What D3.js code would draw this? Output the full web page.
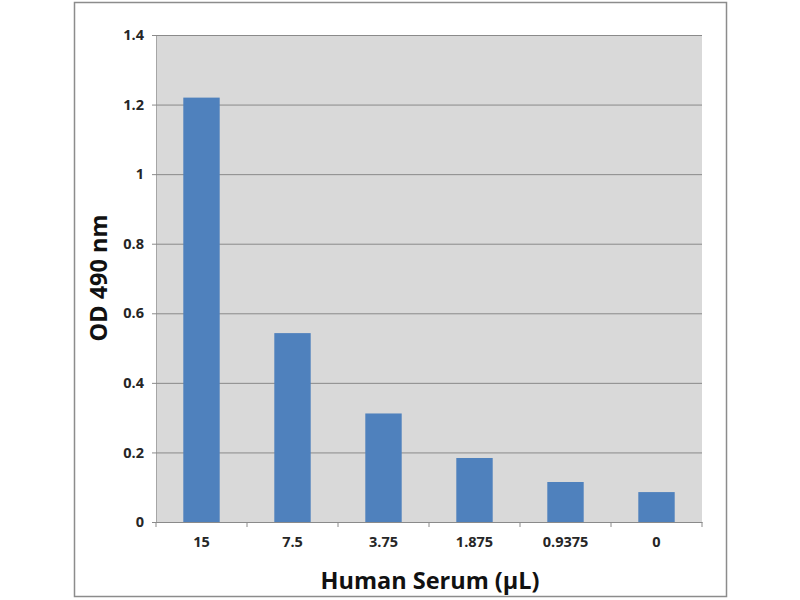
<!DOCTYPE html>
<html><head><meta charset="utf-8">
<script src="https://cdn.jsdelivr.net/npm/d3@7/dist/d3.min.js"></script>
<style>body{margin:0;background:#fff;} svg{display:block;}</style>
</head><body>
<svg id="c" width="800" height="600"></svg>
<script>
const categories = ["15", "7.5", "3.75", "1.875", "0.9375", "0"];
const values = [1.22, 0.543, 0.312, 0.184, 0.115, 0.086];
const yTicks = [0, 0.2, 0.4, 0.6, 0.8, 1, 1.2, 1.4];

const svg = d3.select("#c");
const L = 156, R = 702, T = 35, B = 522;
const font = "'Open Sans', 'Liberation Sans', sans-serif";

// outer border
svg.append("rect").attr("x", 74.5).attr("y", 2.5).attr("width", 652).attr("height", 594)
  .attr("fill", "#fff").attr("stroke", "#8c8c8c").attr("stroke-width", 1.5);

const x = d3.scaleBand().domain(categories).range([L, R]).paddingInner(0.6).paddingOuter(0.3);
const xb = d3.scaleBand().domain(categories).range([L, R]);
const y = d3.scaleLinear().domain([0, 1.4]).range([B, T]);

// plot background
svg.append("rect").attr("x", L).attr("y", T).attr("width", R - L).attr("height", B - T).attr("fill", "#d9d9d9");

// gridlines + y ticks
const yAxis = d3.axisLeft(y).tickValues(yTicks).tickSize(-(R - L)).tickPadding(12).tickFormat(d => d3.format("")(d));
const gy = svg.append("g").attr("transform", `translate(${L},0)`).call(yAxis);
gy.select(".domain").attr("stroke", "#a6a6a6");
gy.selectAll(".tick line").attr("stroke", "#8a8a8a").attr("x1", -4);
gy.selectAll(".tick text").attr("font-family", font).attr("font-weight", "bold").attr("font-size", 14.5).attr("fill", "#262626");

// bars
svg.selectAll(".bar").data(values).enter().append("rect")
  .attr("x", (d, i) => x(categories[i])).attr("width", x.bandwidth())
  .attr("y", d => y(d)).attr("height", d => B - y(d)).attr("fill", "#4f81bd");

// x axis
const gx = svg.append("g").attr("transform", `translate(0,${B})`)
  .call(d3.axisBottom(xb).tickSize(0).tickPadding(15));
gx.select(".domain").attr("stroke", "#8a8a8a");
gx.selectAll(".tick text").attr("font-family", font).attr("font-weight", "bold").attr("font-size", 14.5).attr("fill", "#262626");
// boundary tick marks
const bounds = categories.map(c => xb(c)).concat([R]);
svg.selectAll(".bt").data(bounds).enter().append("line")
  .attr("x1", d => d).attr("x2", d => d).attr("y1", B).attr("y2", B + 5).attr("stroke", "#8a8a8a");

// axis titles
svg.append("text").attr("x", 430).attr("y", 589).attr("text-anchor", "middle")
  .attr("font-family", font).attr("font-weight", "bold").attr("font-size", 23.5).attr("fill", "#111")
  .text("Human Serum (µL)");
svg.append("text").attr("transform", "translate(107,278) rotate(-90)").attr("text-anchor", "middle")
  .attr("font-family", font).attr("font-weight", "bold").attr("font-size", 23.5).attr("fill", "#111")
  .text("OD 490 nm");
</script>
</body></html>
